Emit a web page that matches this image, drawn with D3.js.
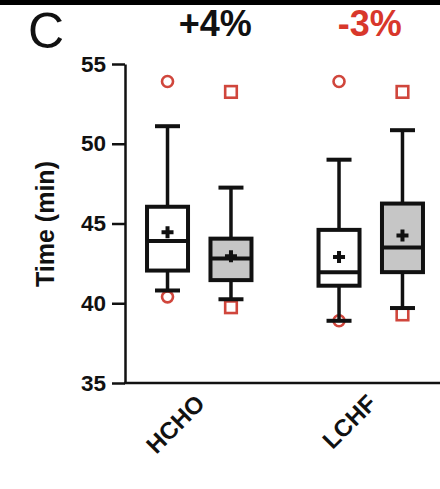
<!DOCTYPE html>
<html>
<head>
<meta charset="utf-8">
<script src="https://cdn.jsdelivr.net/npm/d3@7"></script>
<style>
  body { margin: 0; background: #fff; }
  svg { display: block; font-family: "Liberation Sans", Arial, Helvetica, sans-serif; }
</style>
</head>
<body>
<svg id="chart" width="440" height="489"></svg>
<script>
// values
const categories = ["HCHO", "LCHF"];
const changeLabels = ["+4%", "-3%"];
const yTicks = [35, 40, 45, 50, 55];

// one entry per box: HCHO white, HCHO grey, LCHF white, LCHF grey
const boxCategory = ["HCHO", "HCHO", "LCHF", "LCHF"];
const boxSeries = [0, 1, 0, 1];
const whiskerLow = [40.8, 40.25, 38.9, 39.7];
const q1 = [42.05, 41.45, 41.1, 41.95];
const median = [43.9, 42.8, 41.95, 43.5];
const q3 = [46.05, 44.05, 44.6, 46.25];
const whiskerHigh = [51.1, 47.25, 49.0, 50.85];
const mean = [44.45, 42.95, 42.9, 44.25];
const outlierHigh = [53.9, 53.25, 53.9, 53.25];
const outlierLow = [40.4, 39.75, 38.9, 39.3];

const svg = d3.select("#chart");
const red = "#d0463c";
const ink = "#111";

const y = d3.scaleLinear().domain([35, 55]).range([383, 64]);
const x = d3.scaleBand().domain(categories).range([113.5, 456.5]);
const sub = d3.scaleBand().domain([0, 1]).range([-x.bandwidth() * 0.37, x.bandwidth() * 0.37]);
const boxW = 41;
const capW = 25;

const cx = i => x(boxCategory[i]) + x.bandwidth() / 2 + sub(boxSeries[i]) + sub.bandwidth() / 2;

// black band along the top edge
svg.append("rect").attr("x", 0).attr("y", 0).attr("width", 440).attr("height", 5).attr("fill", "#000");

// panel letter
svg.append("text")
  .attr("x", 28).attr("y", 48)
  .attr("font-size", 50)
  .attr("fill", ink)
  .text("C");

// change labels above each group
const labelShift = [16, -1];
svg.selectAll(".change")
  .data(changeLabels)
  .enter()
  .append("text")
  .attr("class", "change")
  .attr("x", (d, i) => x(categories[i]) + x.bandwidth() / 2 + labelShift[i])
  .attr("y", 36)
  .attr("text-anchor", "middle")
  .attr("font-size", 36)
  .attr("font-weight", "bold")
  .attr("fill", (d, i) => i === 0 ? ink : "#d8372b")
  .text(d => d);

// y axis
const yAxis = svg.append("g")
  .attr("transform", "translate(125,0)")
  .call(d3.axisLeft(y).tickValues(yTicks).tickSize(13).tickSizeOuter(0));
yAxis.select(".domain").attr("stroke", ink).attr("stroke-width", 2.5);
yAxis.selectAll(".tick line").attr("stroke", ink).attr("stroke-width", 2.5);
yAxis.selectAll(".tick text")
  .attr("x", -19)
  .attr("font-size", 22.5)
  .attr("font-weight", "bold")
  .attr("fill", ink)
  .attr("font-family", null);

svg.append("text")
  .attr("transform", "translate(54,224) rotate(-90)")
  .attr("text-anchor", "middle")
  .attr("font-size", 25)
  .attr("font-weight", "bold")
  .attr("fill", ink)
  .text("Time (min)");

// x axis
const xAxis = svg.append("g")
  .attr("transform", "translate(0,383)")
  .call(d3.axisBottom(x).tickSize(0));
xAxis.select(".domain").remove();
xAxis.append("line")
  .attr("x1", 124).attr("x2", 440)
  .attr("stroke", ink).attr("stroke-width", 2.5);
xAxis.selectAll(".tick text")
  .attr("x", 0).attr("y", 0).attr("dy", 0)
  .attr("transform", "translate(7,22) rotate(-45)")
  .attr("text-anchor", "end")
  .attr("font-size", 24)
  .attr("font-weight", "bold")
  .attr("fill", ink)
  .attr("font-family", null);

const idx = d3.range(boxCategory.length);

// outliers first, so whisker caps sit over them
const outliers = svg.append("g").attr("fill", "#fff").attr("stroke", red).attr("stroke-width", 2.6);
idx.forEach(i => {
  [outlierHigh[i], outlierLow[i]].forEach(v => {
    if (boxSeries[i] === 0) {
      outliers.append("circle").attr("cx", cx(i)).attr("cy", y(v)).attr("r", 5.5);
    } else {
      outliers.append("rect")
        .attr("x", cx(i) - 5.8).attr("y", y(v) - 5.8)
        .attr("width", 11.6).attr("height", 11.6);
    }
  });
});

const boxes = svg.append("g").attr("stroke", ink);
idx.forEach(i => {
  const g = boxes.append("g");
  g.append("line")
    .attr("x1", cx(i)).attr("x2", cx(i))
    .attr("y1", y(whiskerLow[i])).attr("y2", y(whiskerHigh[i]))
    .attr("stroke-width", 3.5);
  [whiskerLow[i], whiskerHigh[i]].forEach(v => {
    g.append("line")
      .attr("x1", cx(i) - capW / 2).attr("x2", cx(i) + capW / 2)
      .attr("y1", y(v)).attr("y2", y(v))
      .attr("stroke-width", 4);
  });
  g.append("rect")
    .attr("x", cx(i) - boxW / 2).attr("y", y(q3[i]))
    .attr("width", boxW).attr("height", y(q1[i]) - y(q3[i]))
    .attr("fill", boxSeries[i] === 0 ? "#fff" : "#c6c6c6")
    .attr("stroke-width", 4);
  g.append("line")
    .attr("x1", cx(i) - boxW / 2).attr("x2", cx(i) + boxW / 2)
    .attr("y1", y(median[i])).attr("y2", y(median[i]))
    .attr("stroke-width", 4);
  g.append("path")
    .attr("d", `M${cx(i) - 6},${y(mean[i])}h12M${cx(i)},${y(mean[i]) - 6}v12`)
    .attr("stroke-width", 4);
});
</script>
</body>
</html>
